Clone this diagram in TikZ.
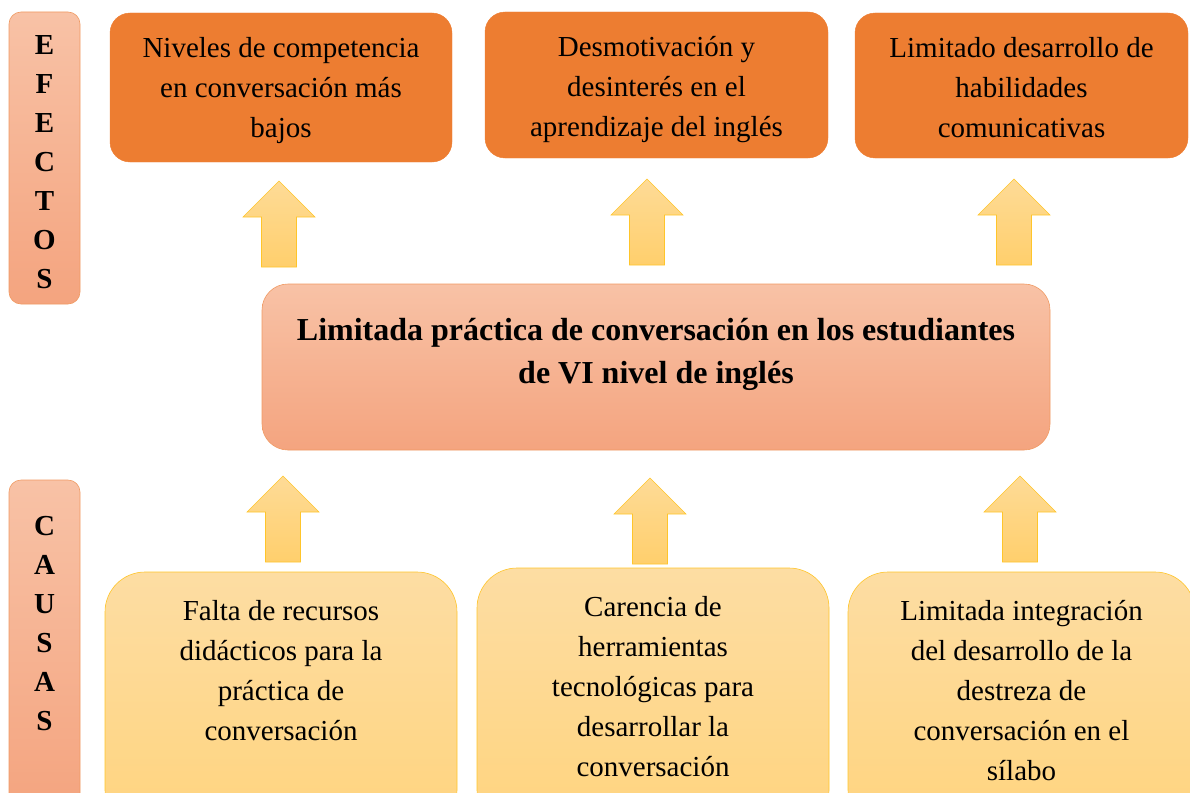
\documentclass[tikz,border=0pt]{standalone}
\usepackage{fontspec}
\setmainfont{Liberation Serif}
\usetikzlibrary{positioning}

\definecolor{naranja}{HTML}{ED7D31}
\definecolor{salmonA}{HTML}{F8C2A6}
\definecolor{salmonB}{HTML}{F4A47F}
\definecolor{salmonBorde}{HTML}{F09A63}
\definecolor{amarilloA}{HTML}{FDDDA3}
\definecolor{amarilloB}{HTML}{FFD47E}
\definecolor{amarilloBorde}{HTML}{FFC52A}
\definecolor{flechaA}{HTML}{FEDB97}
\definecolor{flechaB}{HTML}{FFCF6C}

\begin{document}
\begin{tikzpicture}[
        x = 1pt, y = -1pt, % one unit per pixel, y going down
        inner sep = 0pt, % no padding round texts
        font = \fontsize{29}{40}\selectfont
      ]

      \tikzstyle{efecto}=[rectangle, rounded corners=20pt, fill=naranja, draw=naranja]
      \tikzstyle{problema}=[rectangle, rounded corners=26pt, top color=salmonA, bottom color=salmonB, draw=salmonBorde, semithick]
      \tikzstyle{lateral}=[rectangle, rounded corners=12pt, top color=salmonA, bottom color=salmonB, draw=salmonBorde, semithick]
      \tikzstyle{causa}=[rectangle, rounded corners=40pt, top color=amarilloA, bottom color=amarilloB, draw=amarilloBorde, semithick]
      \tikzstyle{texto}=[align=center]
      \tikzstyle{letras}=[align=center, font=\fontsize{29}{39}\selectfont\bfseries]
      \tikzset{flechita/.pic={
          \draw[top color=flechaA, bottom color=flechaB, draw=amarilloBorde, semithick]
            (0,0) -- (36,36) -- (17.5,36) -- (17.5,86) -- (-17.5,86) -- (-17.5,36) -- (-36,36) -- cycle;
        }}

      \useasboundingbox (0,0) rectangle (1190,792);
      \clip (0,0) rectangle (1190,792);

      % side labels
      \node[lateral, minimum width=71pt, minimum height=292pt] (efectos) at (44.5,158) {};
      \node[letras, below=24pt of efectos.north] (tefectos) {E\\F\\E\\C\\T\\O\\S};
      \node[lateral, minimum width=71pt, minimum height=330pt] (causas) at (44.5,645) {};
      \node[letras, below=36pt of causas.north] (tcausas) {C\\A\\U\\S\\A\\S};

      % effects
      \node[efecto, minimum width=342pt, minimum height=149pt] (ef1) at (281,87.5) {};
      \node[texto, below=24pt of ef1.north] (tef1) {Niveles de competencia\\en conversación más\\bajos};
      \node[efecto, minimum width=343pt, minimum height=146pt] (ef2) at (656.5,85) {};
      \node[texto, below=24pt of ef2.north] (tef2) {Desmotivación y\\desinterés en el\\aprendizaje del inglés};
      \node[efecto, minimum width=333pt, minimum height=145pt] (ef3) at (1021.5,85.5) {};
      \node[texto, below=24pt of ef3.north] (tef3) {Limitado desarrollo de\\habilidades\\comunicativas};

      % central problem
      \node[problema, minimum width=788pt, minimum height=166pt] (prob) at (656,367) {};
      \node[texto, font=\fontsize{32}{43}\selectfont\bfseries, below=34pt of prob.north] (tprob)
        {Limitada práctica de conversación en los estudiantes\\de VI nivel de inglés};

      % causes
      \node[causa, minimum width=352pt, minimum height=258pt] (ca1) at (281,701) {};
      \node[texto, below=28.5pt of ca1.north] (tca1) {Falta de recursos\\didácticos para la\\práctica de\\conversación};
      \node[causa, minimum width=352pt, minimum height=262pt] (ca2) at (653,699) {};
      \node[texto, below=28.5pt of ca2.north] (tca2) {Carencia de\\herramientas\\tecnológicas para\\desarrollar la\\conversación};
      \node[causa, minimum width=347pt, minimum height=258pt] (ca3) at (1021.5,701) {};
      \node[texto, below=28.5pt of ca3.north] (tca3) {Limitada integración\\del desarrollo de la\\destreza de\\conversación en el\\sílabo};

      % block arrows
      \pic (fe1) at (279,181) {flechita};
      \pic (fe2) at (647,179) {flechita};
      \pic (fe3) at (1014,179) {flechita};
      \pic (fc1) at (283,476) {flechita};
      \pic (fc2) at (650,478) {flechita};
      \pic (fc3) at (1020,476) {flechita};

    \end{tikzpicture}
\end{document}
